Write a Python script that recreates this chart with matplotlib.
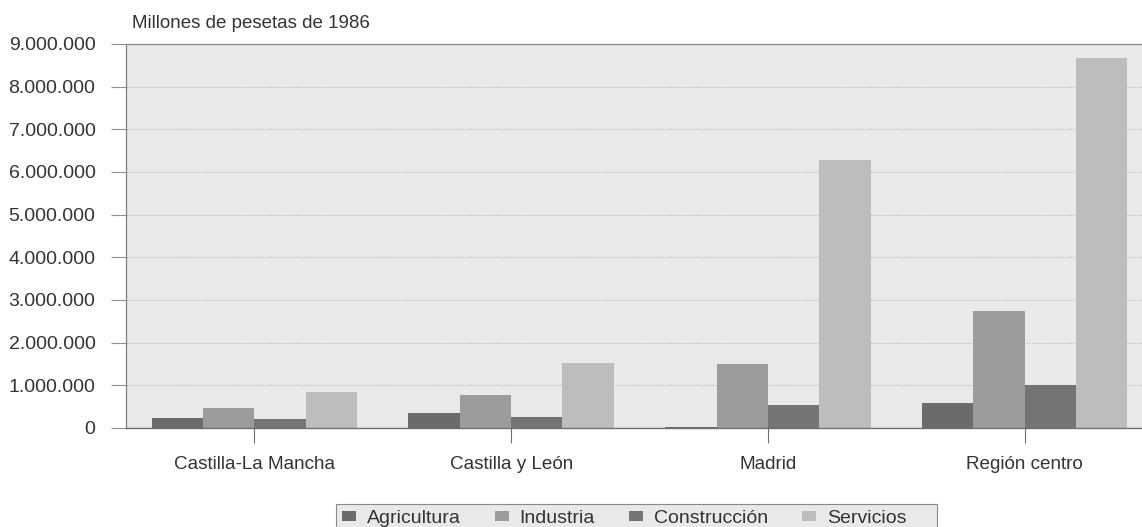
import matplotlib
matplotlib.use("Agg")
import matplotlib.pyplot as plt
import numpy as np
from matplotlib.ticker import FuncFormatter, MultipleLocator
from matplotlib.patches import Patch, Rectangle

plt.rcParams['font.family'] = ['Liberation Sans', 'DejaVu Sans']

regions = ["Castilla-La Mancha", "Castilla y León", "Madrid", "Región centro"]
sectors = ["Agricultura", "Industria", "Construcción", "Servicios"]

# Valor añadido por sector (millones de pesetas de 1986)
agricultura = [230000, 360000, 30000, 590000]
industria = [470000, 770000, 1510000, 2740000]
construccion = [200000, 250000, 530000, 1010000]
servicios = [850000, 1520000, 6270000, 8680000]

series = [agricultura, industria, construccion, servicios]
colors = ["#6b6b6b", "#9c9c9c", "#747474", "#bdbdbd"]

W, H = 1142, 527
fig = plt.figure(figsize=(W / 100, H / 100), dpi=100)
fig.patch.set_facecolor("white")

left, right, top, bottom = 126, 1153, 44, 428
ax = fig.add_axes([left / W, 1 - bottom / H, (right - left) / W, (bottom - top) / H])
ax.set_facecolor("#e9e9e9")

x = np.arange(len(regions))
bw = 0.2
for i, (vals, c) in enumerate(zip(series, colors)):
    ax.bar(x + (i - 1.5) * bw, vals, width=bw, color=c, edgecolor="none",
           zorder=3, label=sectors[i])

ax.set_xlim(-0.5, len(regions) - 0.5)
ax.set_ylim(0, 9000000)
ax.yaxis.set_major_locator(MultipleLocator(1000000))
ax.yaxis.set_major_formatter(FuncFormatter(lambda v, p: f"{int(v):,}".replace(",", ".")))
ax.set_xticks(x)
ax.set_xticklabels(regions)

ax.grid(axis="y", color="#b5b5b5", linestyle=(0, (1, 1.5)), linewidth=0.8, zorder=1)

ax.spines["right"].set_visible(False)
ax.spines["top"].set_color("#8c8c8c")
ax.spines["top"].set_linestyle((0, (1, 1)))
ax.spines["top"].set_linewidth(0.9)
ax.spines["left"].set_color("#808080")
ax.spines["left"].set_linewidth(0.9)
ax.spines["bottom"].set_color("#707070")
ax.spines["bottom"].set_linewidth(1.0)
ax.spines["bottom"].set_zorder(4)

ax.tick_params(axis="y", length=11, width=0.8, color="#909090", pad=11,
               labelsize=14, labelcolor="#333333")
ax.tick_params(axis="x", length=11, width=0.8, color="#707070", pad=9,
               labelsize=13.6, labelcolor="#333333")

fig.text(132 / W, 1 - 23 / H, "Millones de pesetas de 1986", fontsize=13.5,
         color="#333333", ha="left", va="center")

# Legend box
box_l, box_r, box_t, box_b = 336, 937, 504, 532
fig.patches.append(Rectangle((box_l / W, 1 - box_b / H), (box_r - box_l) / W,
                             (box_b - box_t) / H, transform=fig.transFigure,
                             facecolor="#e9e9e9", edgecolor="#8a8a8a", linewidth=0.8,
                             zorder=0))

handles = [Patch(facecolor=c, edgecolor="none", label=s) for c, s in zip(colors, sectors)]
leg = fig.legend(handles=handles, loc="upper left", bbox_to_anchor=(336 / W, 1 - 504 / H),
                 ncol=4, frameon=False, fontsize=14, handlelength=0.72, handleheight=0.42,
                 handletextpad=0.57, columnspacing=1.74, borderpad=0.3, borderaxespad=0,
                 labelcolor="#333333")

fig.savefig("out.png", dpi=100)
